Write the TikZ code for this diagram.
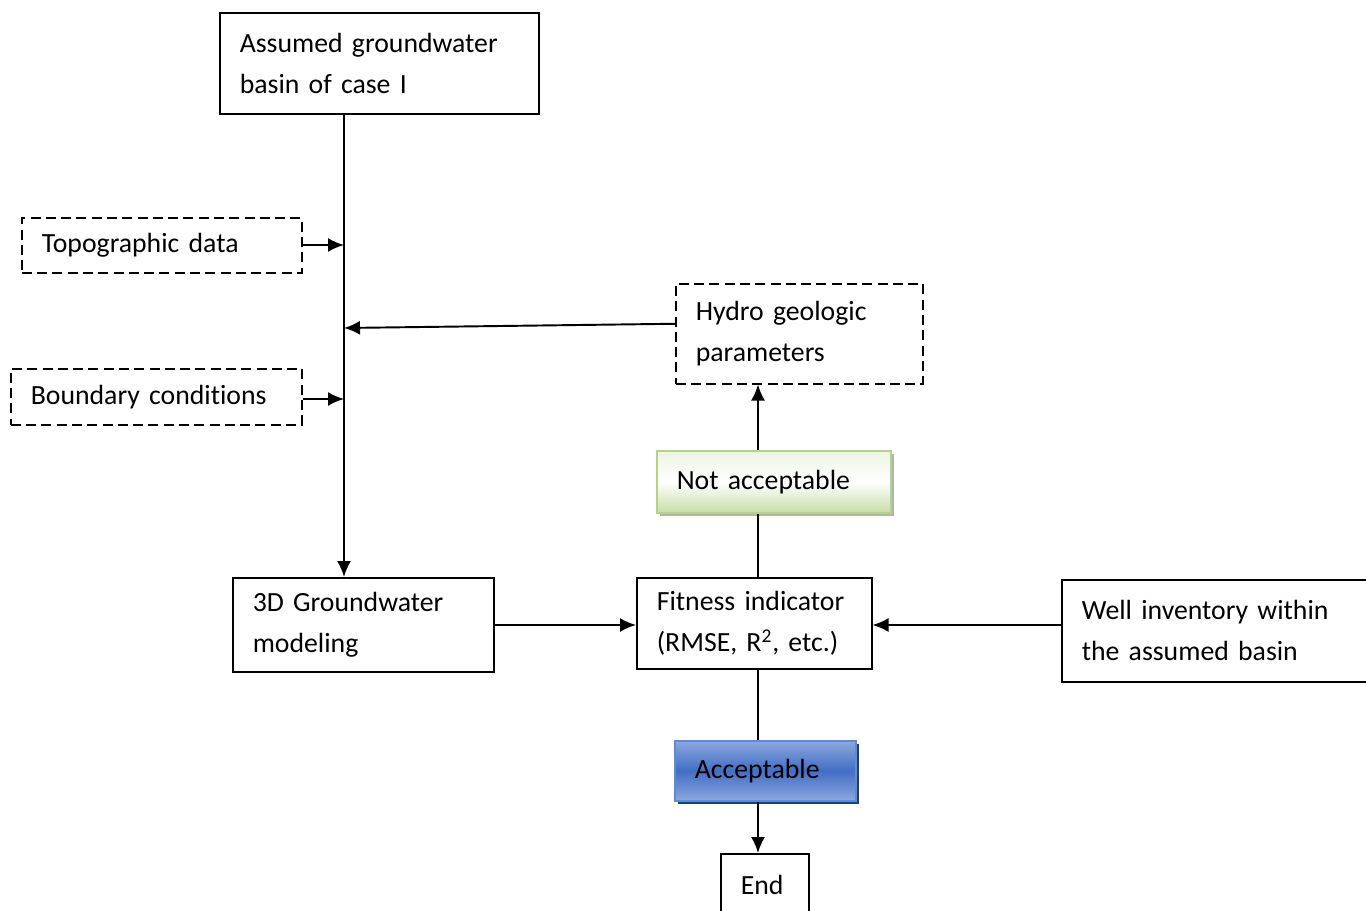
\documentclass[tikz,border=0pt]{standalone}
\usepackage{fontspec}
\setmainfont{Carlito}[Ligatures=NoCommon]
\usetikzlibrary{arrows.meta}
\usetikzlibrary{shadows}
\usetikzlibrary{calc}
\definecolor{okedge}{RGB}{90,140,215}
\definecolor{oklight}{RGB}{140,168,222}
\definecolor{okmid}{RGB}{66,110,196}
\definecolor{okshadow}{RGB}{38,62,105}
\definecolor{noedge}{RGB}{180,210,140}
\definecolor{nolight}{RGB}{236,244,226}
\definecolor{nodark}{RGB}{200,222,165}
\tikzstyle{process}=[rectangle, draw=black, line width=0.9pt, fill=white, anchor=north west, align=left, inner xsep=0.4cm, inner ysep=0pt, font=\fontsize{15.8}{23.3}\selectfont]
\tikzstyle{inputdata}=[process, dash pattern=on 5.7pt off 3pt]
\tikzstyle{rejected}=[process, draw=noedge, top color=nolight, bottom color=nodark, middle color=white, drop shadow={shadow xshift=0.07cm, shadow yshift=-0.07cm, fill=gray!60, opacity=1}]
\tikzstyle{accepted}=[process, draw=okedge, top color=oklight, bottom color=oklight, middle color=okmid, drop shadow={shadow xshift=0.07cm, shadow yshift=-0.07cm, fill=okshadow, opacity=1}]

\begin{document}
\begin{tikzpicture}[x=0.02cm, y=-0.02cm, >={Latex[length=0.32cm,width=0.28cm]}]
	\useasboundingbox (0,0) rectangle (1366,911);
	% boxes
	\node (basin) at (219,12) [process, text width=5.58cm, minimum height=2.02cm] {Assumed groundwater\\basin of case I};
	\node (topo) at (21,217) [inputdata, text width=4.8cm, minimum height=1.1cm] {Topographic data};
	\node (bound) at (10,368) [inputdata, text width=5.02cm, minimum height=1.12cm] {Boundary conditions};
	\node (hydro) at (675,283) [inputdata, text width=4.14cm, minimum height=2cm] {Hydro geologic\\parameters};
	\node (notok) at (656,450) [rejected, text width=3.88cm, minimum height=1.24cm] {Not acceptable};
	\node (model) at (232,577) [process, text width=4.42cm, minimum height=1.88cm] {3D Groundwater\\modeling};
	\node (fit) at (636,577) [process, text width=3.9cm, minimum height=1.82cm] {Fitness indicator\\(RMSE, R\textsuperscript{2}, etc.)};
	\node (well) at (1061,579) [process, text width=5.3cm, minimum height=2.04cm] {Well inventory within\\the assumed basin};
	\node (ok) at (674,740) [accepted, text width=2.82cm, minimum height=1.2cm] {Acceptable};
	\node (end) at (720,853) [process, text width=0.96cm, minimum height=1.24cm] {End};
	% trunk and loop column
	\coordinate (trunk) at (344,113);
	\coordinate (loop) at (758,0);
	\coordinate (t1) at (344,245);
	\coordinate (t2) at (344,399);
	\coordinate (t3) at (344,328);
	\path[line width=1.1pt]
		(trunk) edge[->] (trunk |- model.north)
		(topo.east |- t1) edge[->] (t1)
		(bound.east |- t2) edge[->] (t2)
		([yshift=0.2cm]hydro.west) edge[->] (t3)
		(model.east |- 0,625) edge[->] (fit.west |- 0,625)
		(well.west |- 0,625) edge[->] (fit.east |- 0,625)
		(loop |- fit.north) edge (loop |- notok.south)
		(loop |- notok.north) edge[->] (loop |- hydro.south)
		(loop |- fit.south) edge (loop |- ok.north)
		(loop |- ok.south) edge[->] (loop |- end.north);
\end{tikzpicture}
\end{document}
